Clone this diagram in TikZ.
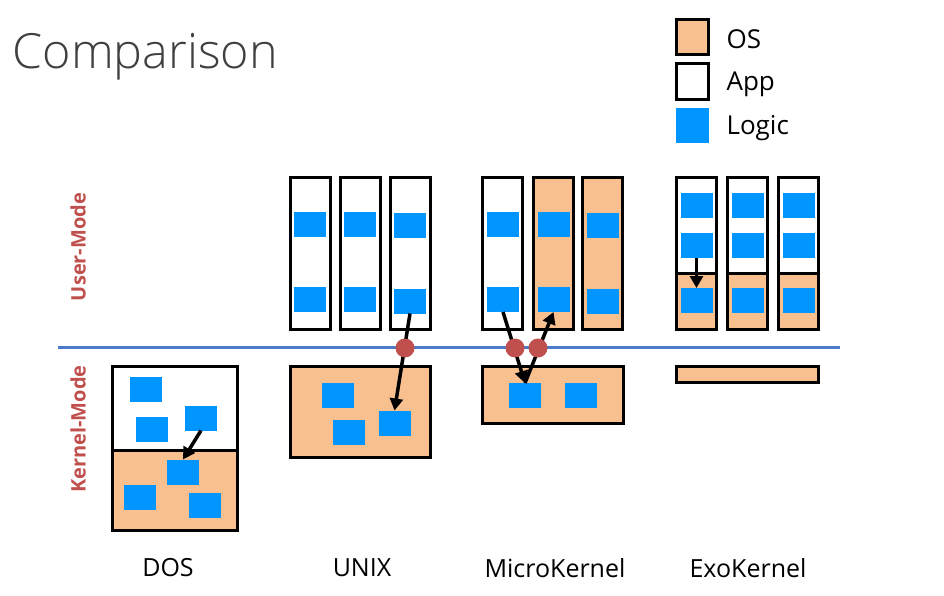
\documentclass[tikz,border=0pt]{standalone}
\usepackage{fontspec}
\setmainfont{Open Sans}
\newfontfamily\lightfont{Open Sans Light}
\usetikzlibrary{arrows.meta}
\definecolor{osc}{HTML}{F9C08F}
\definecolor{logicc}{HTML}{0095FF}
\definecolor{linec}{HTML}{4A7BC8}
\definecolor{dotc}{HTML}{C0504D}
\definecolor{titlec}{HTML}{404040}
\tikzset{
 box/.style={draw, line width=3pt, inner sep=0pt, outer sep=0pt},
 osbox/.style={box, fill=osc},
 appbox/.style={box, fill=white},
 logic/.style={fill=logicc, minimum width=32pt, minimum height=25pt, inner sep=0pt, outer sep=0pt},
 arr/.style={line width=3.5pt, -{Triangle[length=12pt,width=13pt]}},
 dotn/.style={circle, fill=dotc, minimum size=19pt, inner sep=0pt},
 lbl/.style={font=\fontsize{25}{29}\selectfont, text=black},
 leg/.style={font=\fontsize{26}{30}\selectfont, text=black, anchor=west},
 mode/.style={font=\fontsize{20}{24}\selectfont\bfseries, text=dotc, rotate=90},
}
\begin{document}
\begin{tikzpicture}[x=1pt,y=-1pt]
\useasboundingbox (0,0) rectangle (944,596);
% title
\node[anchor=west, text=titlec, font=\fontsize{48.5}{54}\selectfont\lightfont] (title) at (9,57) {Comparison};
% legend
\node[osbox, minimum width=32pt, minimum height=35pt] (legos) at (692.5,37.5) {};
\node[appbox, minimum width=32pt, minimum height=36pt] (legapp) at (692.5,82) {};
\node[logic, minimum width=33pt, minimum height=35pt] (leglogic) at (692.5,125.5) {};
\node[leg] (tos) at (723,39) {OS};
\node[leg] (tapp) at (723,84) {App};
\node[leg] (tlogic) at (723,128) {Logic};
% mode labels
\node[mode] (umode) at (78,247) {User-Mode};
\node[mode] (kmode) at (78,429) {Kernel-Mode};
% separator
\coordinate (la) at (58,347);
\coordinate (lb) at (840,347);
\draw[linec, line width=3pt] (la) -- (lb);
% DOS
\node[appbox, minimum width=125pt, minimum height=84pt] (dtop) at (174.5,408) {};
\node[osbox, minimum width=125pt, minimum height=80pt] (dbot) at (174.5,490) {};
\node[logic] (d1) at (145.5,389.5) {};
\node[logic] (d2) at (152,429.5) {};
\node[logic] (d3) at (201,418) {};
\node[logic] (d4) at (183,472) {};
\node[logic] (d5) at (140,497) {};
\node[logic] (d6) at (205,505.5) {};
\draw[arr] (d3.south) -- (d4.north);
% UNIX
\node[appbox, minimum width=40pt, minimum height=151pt] (u1) at (310,253.5) {};
\node[appbox, minimum width=40pt, minimum height=151pt] (u2) at (360,253.5) {};
\node[appbox, minimum width=40pt, minimum height=151pt] (u3) at (410,253.5) {};
\node[logic] (u1a) at (310,224.5) {};
\node[logic] (u1b) at (310,299.5) {};
\node[logic] (u2a) at (360,224.5) {};
\node[logic] (u2b) at (360,299.5) {};
\node[logic] (u3a) at (410,225.5) {};
\node[logic] (u3b) at (410,301) {};
\node[osbox, minimum width=140pt, minimum height=91pt] (uk) at (360,411.5) {};
\node[logic] (uk1) at (338,395) {};
\node[logic] (uk2) at (349,432) {};
\node[logic] (uk3) at (394.5,423) {};
\draw[arr] (u3b.south) -- (uk3.north);
\node[dotn] (ud) at (405,348) {};
% MicroKernel
\node[appbox, minimum width=40pt, minimum height=151pt] (m1) at (502.5,253.5) {};
\node[osbox, minimum width=40pt, minimum height=151pt] (m2) at (553,253.5) {};
\node[osbox, minimum width=40pt, minimum height=151pt] (m3) at (602.5,253.5) {};
\node[logic] (m1a) at (503,224.5) {};
\node[logic] (m1b) at (503,299.5) {};
\node[logic] (m2a) at (553.5,224.5) {};
\node[logic] (m2b) at (553.5,299.5) {};
\node[logic] (m3a) at (603,225.5) {};
\node[logic] (m3b) at (603,301) {};
\node[osbox, minimum width=141pt, minimum height=57pt] (mk) at (552.5,394.5) {};
\node[logic] (mk1) at (525,395.5) {};
\node[logic] (mk2) at (581,395.5) {};
\draw[arr] (m1b.south) -- (mk1.north);
\draw[arr] (mk1.north) -- (m2b.south);
\node[dotn] (md1) at (515,348) {};
\node[dotn] (md2) at (538,348) {};
% ExoKernel
\foreach \n/\x in {1/696, 2/747, 3/798.5}{
  \node[appbox, minimum width=40pt, minimum height=95pt] (e\n top) at (\x,225.5) {};
  \node[osbox, minimum width=40pt, minimum height=56pt] (e\n bot) at (\x,301) {};
  \node[logic] (e\n a) at (\x+0.5,205) {};
  \node[logic] (e\n b) at (\x+0.5,245) {};
  \node[logic] (e\n c) at (\x+0.5,300.5) {};
}
\draw[arr] (e1b.south) -- (e1c.north);
\node[osbox, minimum width=142pt, minimum height=16pt] (ek) at (747,374) {};
% labels
\node[lbl] (ldos) at (168,568) {DOS};
\node[lbl] (lunix) at (362,568) {UNIX};
\node[lbl] (lmicro) at (555,568) {MicroKernel};
\node[lbl] (lexo) at (748,568) {ExoKernel};
\end{tikzpicture}
\end{document}
